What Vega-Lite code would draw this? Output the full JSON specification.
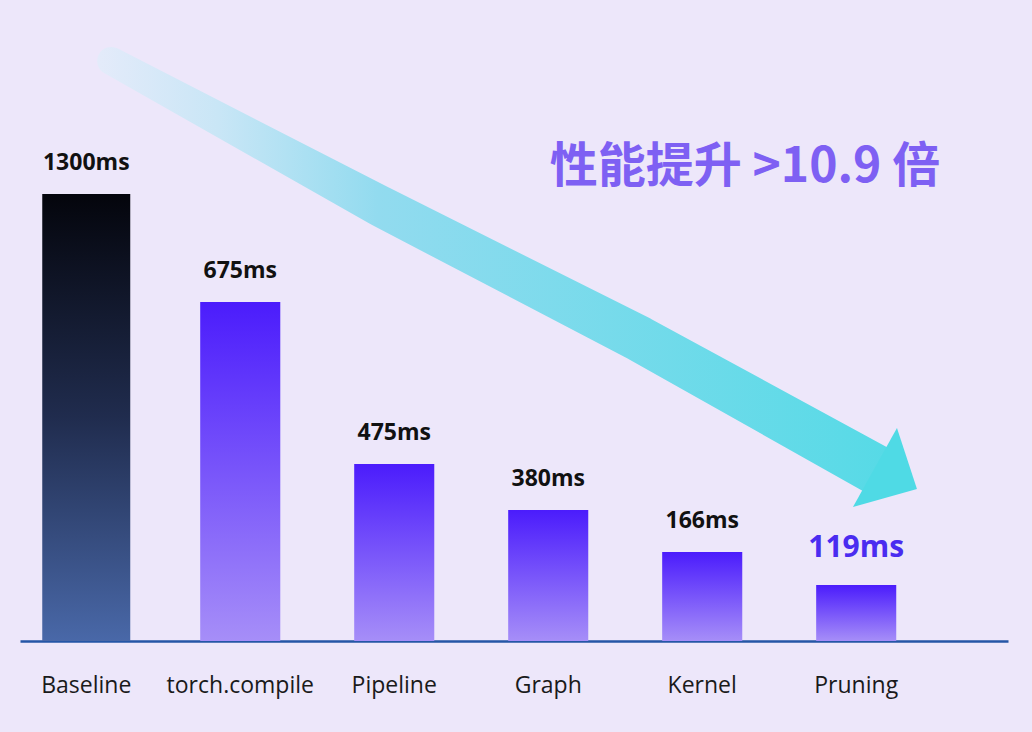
{
  "$schema": "https://vega.github.io/schema/vega-lite/v6.json",
  "width": 988,
  "height": 621,
  "autosize": {"type": "none"},
  "padding": {"left": 20, "top": 20, "right": 24, "bottom": 91},
  "background": "#ede7fa",
  "config": {"view": {"stroke": null}, "font": "Open Sans"},
  "datasets": {
    "bars": [
      {"stage": "Baseline", "ms": 1300, "bar": 1300, "label": "1300ms"},
      {"stage": "torch.compile", "ms": 675, "bar": 986, "label": "675ms"},
      {"stage": "Pipeline", "ms": 475, "bar": 515, "label": "475ms"},
      {"stage": "Graph", "ms": 380, "bar": 381, "label": "380ms"},
      {"stage": "Kernel", "ms": 166, "bar": 259, "label": "166ms"},
      {"stage": "Pruning", "ms": 119, "bar": 163, "label": "119ms"}
    ],
    "arrow": [
      {"pos": 0.17, "level": 1687, "w": 28},
      {"pos": 1.916, "level": 1265, "w": 41},
      {"pos": 3.604, "level": 878, "w": 46},
      {"pos": 5.13, "level": 500, "w": 50}
    ],
    "head": [{"pos": 5.221, "level": 483}],
    "headline": [{"t": "性能提升 >10.9 倍"}]
  },
  "resolve": {"scale": {"x": "independent"}},
  "layer": [
    {
      "layer": [
        {
          "data": {"name": "arrow"},
          "mark": {
            "type": "trail",
            "color": {
              "gradient": "linear", "x1": 0, "y1": 0, "x2": 1, "y2": 0,
              "stops": [
                {"offset": 0, "color": "#e4ebfa"},
                {"offset": 0.15, "color": "#c9e6f6"},
                {"offset": 0.35, "color": "#92dbef"},
                {"offset": 1, "color": "#55dae6"}
              ]
            }
          },
          "encoding": {
            "x": {"field": "pos", "type": "quantitative", "scale": {"domain": [-0.422, 5.994], "nice": false, "zero": false}, "axis": null},
            "y": {"field": "level", "type": "quantitative", "scale": {"domain": [0, 1806], "nice": false}, "axis": null},
            "size": {"field": "w", "type": "quantitative", "scale": null, "legend": null}
          }
        },
        {
          "data": {"name": "head"},
          "mark": {"type": "point", "shape": "M0.56,0.28L0.16,-0.94L-0.72,0.64Z", "size": 10000, "filled": true, "color": "#4fdae5", "opacity": 1, "strokeWidth": 0},
          "encoding": {
            "x": {"field": "pos", "type": "quantitative", "scale": {"domain": [-0.422, 5.994], "nice": false, "zero": false}, "axis": null},
            "y": {"field": "level", "type": "quantitative", "scale": {"domain": [0, 1806], "nice": false}, "axis": null}
          }
        },
        {
          "data": {"name": "headline"},
          "mark": {
            "type": "text", "font": "Noto Sans CJK SC", "fontSize": 48, "fontWeight": "bold", "baseline": "middle", "align": "center",
            "color": "#7e60f3"
          },
          "encoding": {
            "x": {"datum": 4.286, "type": "quantitative", "scale": {"domain": [-0.422, 5.994], "nice": false, "zero": false}, "axis": null},
            "y": {"datum": 1376, "type": "quantitative", "scale": {"domain": [0, 1806], "nice": false}, "axis": null},
            "text": {"field": "t", "type": "nominal"}
          }
        }
      ]
    },
    {
      "data": {"name": "bars"},
      "encoding": {
        "x": {
          "field": "stage", "type": "nominal", "sort": null,
          "scale": {"domain": ["Baseline", "torch.compile", "Pipeline", "Graph", "Kernel", "Pruning"], "paddingInner": 0.48, "paddingOuter": 0.448, "align": 0.19},
          "axis": {"title": null, "labelAngle": 0, "ticks": false, "domainColor": "#2556a6", "domainWidth": 2.5, "labelFontSize": 23, "labelColor": "#1a1a1a", "labelPadding": 33, "labelFont": "Open Sans"}
        },
        "y": {"field": "bar", "type": "quantitative", "scale": {"domain": [0, 1806], "nice": false}, "axis": null}
      },
      "layer": [
        {
          "transform": [{"filter": "datum.stage !== 'Baseline'"}],
          "mark": {
            "type": "bar",
            "color": {
              "gradient": "linear", "x1": 0, "y1": 0, "x2": 0, "y2": 1,
              "stops": [
                {"offset": 0, "color": "#4b1cfc"},
                {"offset": 1, "color": "#a68ef8"}
              ]
            }
          }
        },
        {
          "transform": [{"filter": "datum.stage === 'Baseline'"}],
          "mark": {
            "type": "bar",
            "width": 88,
            "color": {
              "gradient": "linear", "x1": 0, "y1": 0, "x2": 0, "y2": 1,
              "stops": [
                {"offset": 0, "color": "#04050c"},
                {"offset": 0.5, "color": "#202c4e"},
                {"offset": 1, "color": "#4968a8"}
              ]
            }
          }
        },
        {
          "transform": [{"filter": "datum.stage !== 'Pruning'"}],
          "mark": {"type": "text", "fontSize": 23, "fontWeight": "bold", "color": "#111111", "baseline": "middle", "dy": -31},
          "encoding": {"text": {"field": "label"}}
        },
        {
          "transform": [{"filter": "datum.stage === 'Pruning'"}],
          "mark": {"type": "text", "fontSize": 30, "fontWeight": "bold", "color": "#4a2cf0", "baseline": "middle", "dy": -37},
          "encoding": {"text": {"field": "label"}}
        }
      ]
    }
  ]
}
